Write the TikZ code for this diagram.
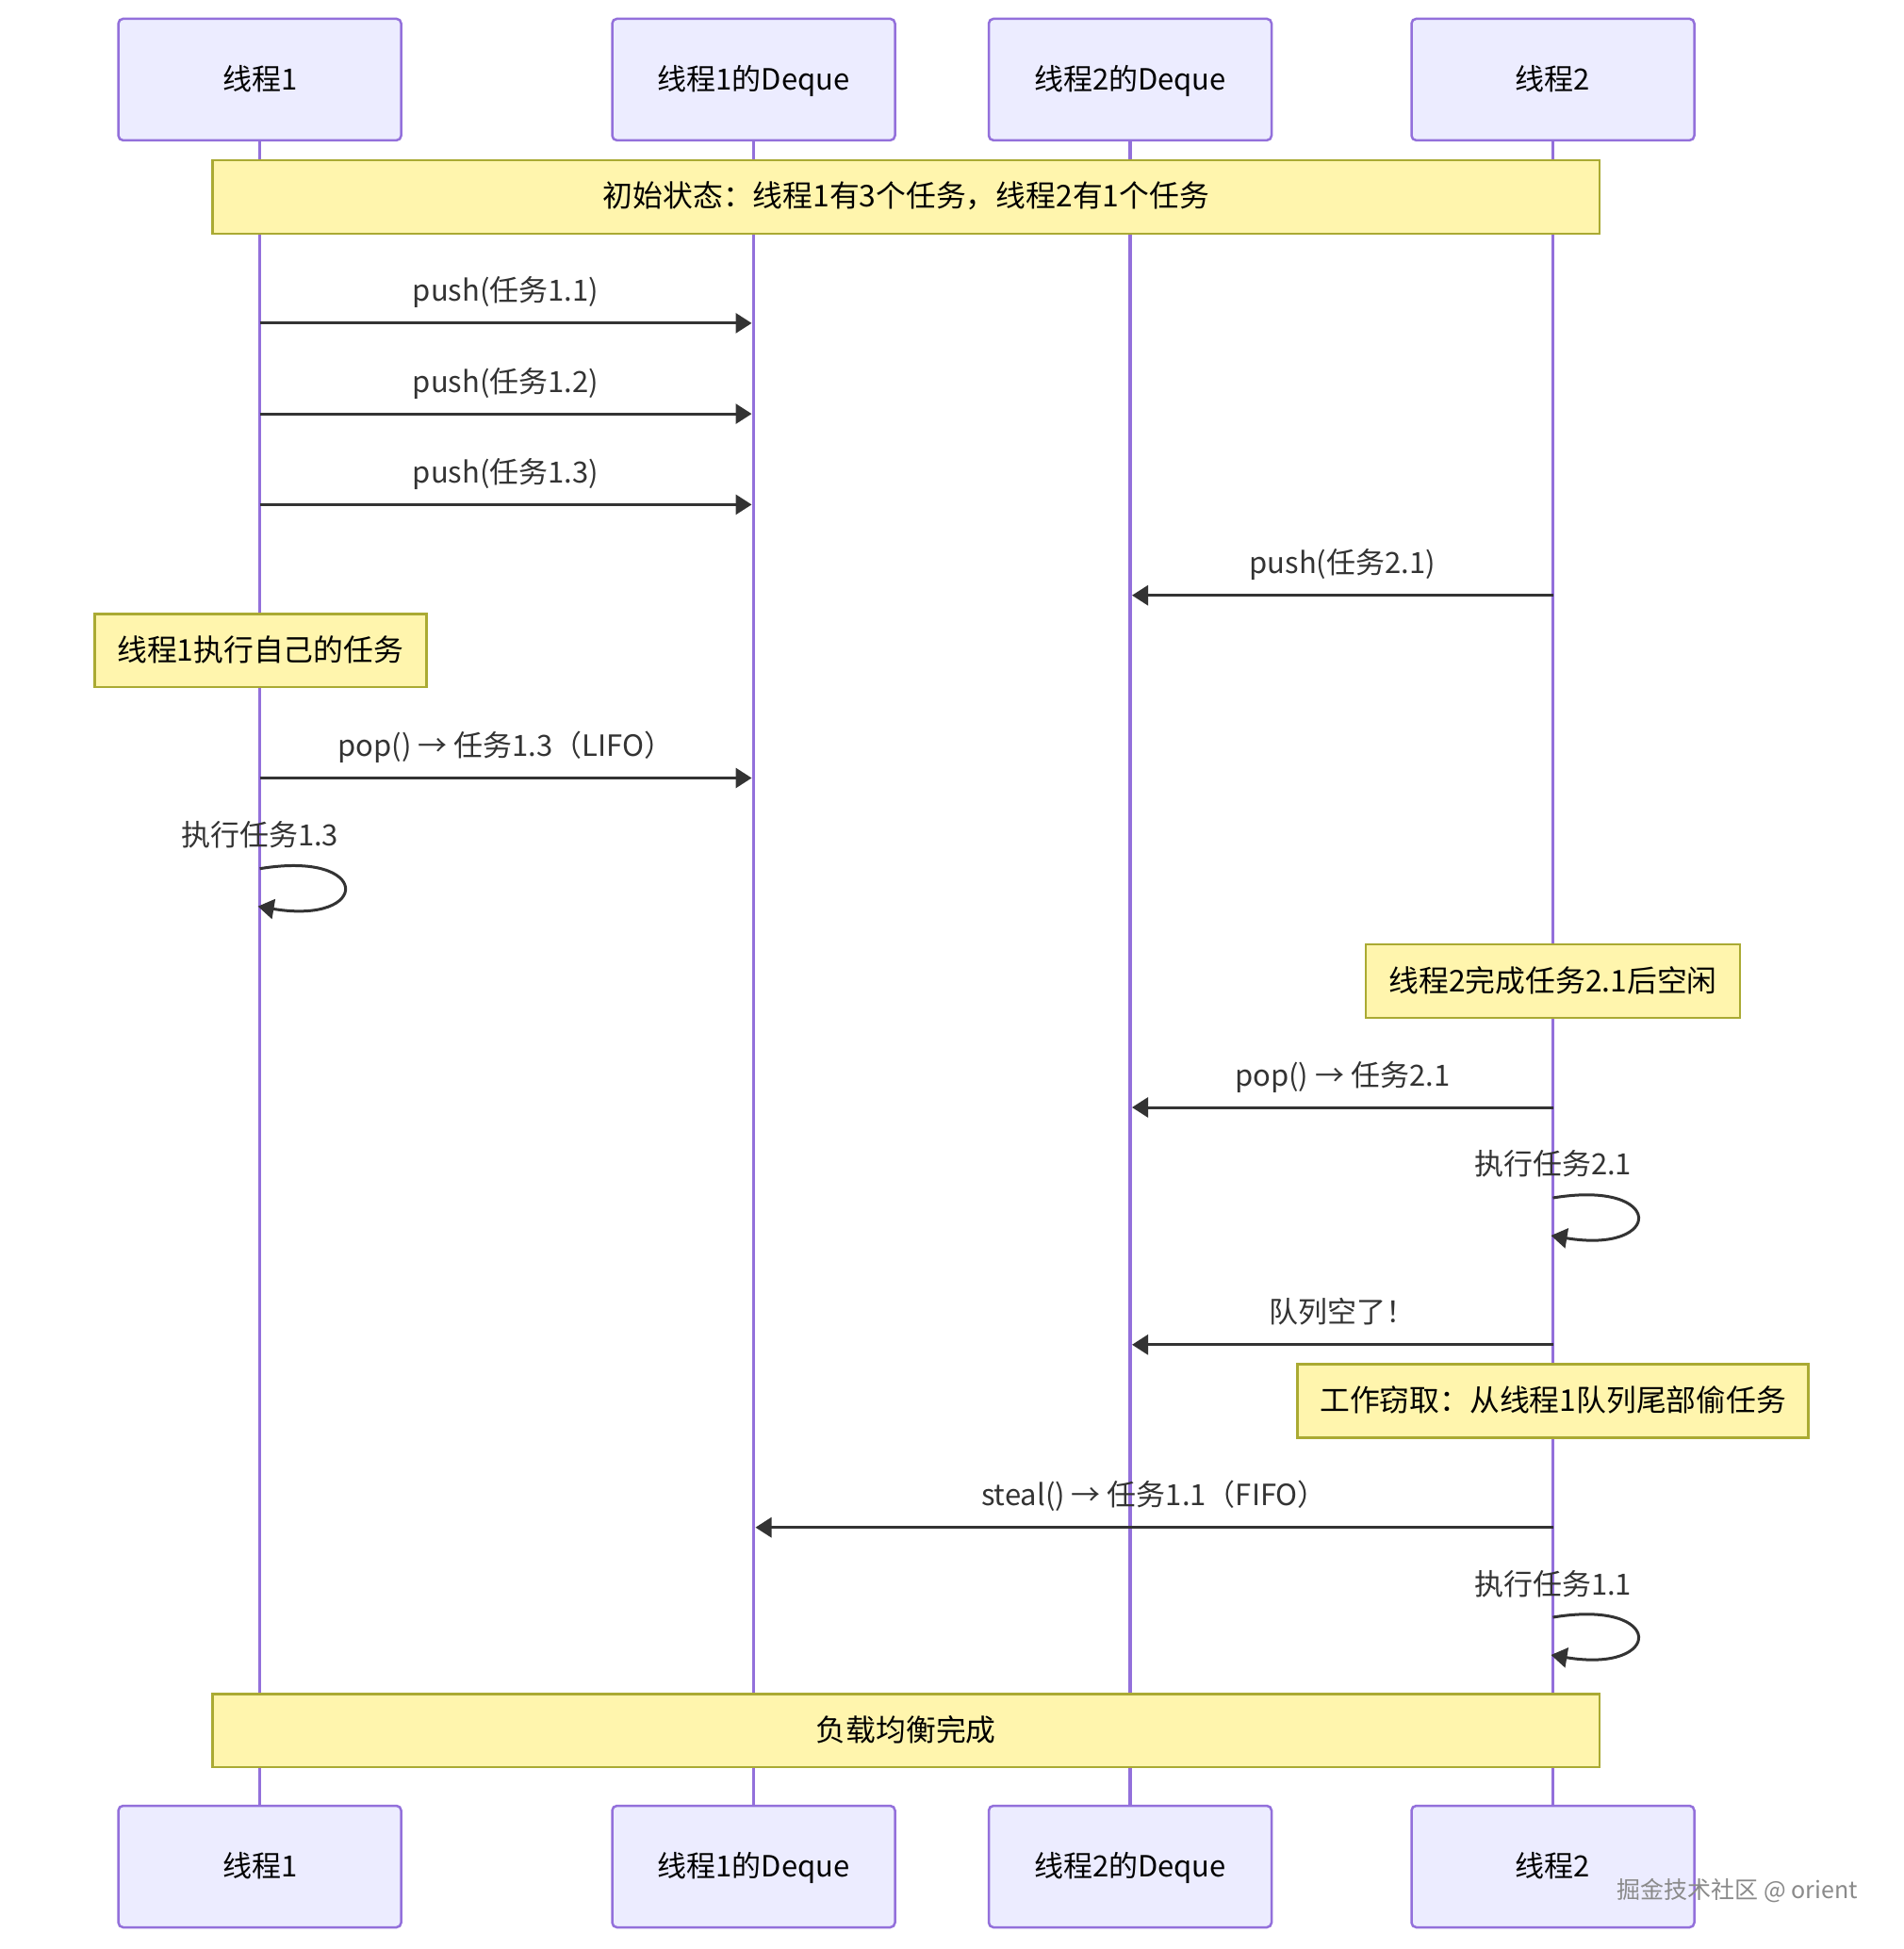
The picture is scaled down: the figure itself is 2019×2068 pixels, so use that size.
\documentclass[tikz,border=0pt]{standalone}
\usepackage{fontspec}
\setmainfont{Noto Sans CJK SC}
\usetikzlibrary{arrows.meta}
\definecolor{actorfill}{HTML}{ECECFF}
\definecolor{actorborder}{HTML}{9370DB}
\definecolor{lifecol}{HTML}{9370DB}
\definecolor{notefill}{HTML}{FFF5AD}
\definecolor{noteborder}{HTML}{AAAA33}
\definecolor{arrowgray}{HTML}{333333}
\definecolor{wmgray}{HTML}{8A8A8A}
\tikzset{
  actorbox/.style={draw=actorborder, fill=actorfill, line width=2.5pt, rounded corners=5pt,
    minimum width=300pt, minimum height=129pt, inner sep=0pt, text=black,
    text height=26pt, text depth=4pt,
    font=\fontsize{31}{37}\selectfont},
  notebox/.style={draw=noteborder, fill=notefill, line width=2.5pt, inner sep=0pt,
    text height=26pt, text depth=4pt,
    minimum height=77.8pt, text=black, font=\fontsize{31.8}{37}\selectfont},
  msglabel/.style={text=arrowgray, font=\fontsize{31}{36}\selectfont, inner sep=0pt,
    text height=26pt, text depth=4pt},
  msgarrow/.style={draw=arrowgray, line width=3pt, -{Triangle[length=17pt,width=21pt]}},
  lifeline/.style={draw=lifecol, line width=3.5pt},
}
\begin{document}
\begin{tikzpicture}[x=1pt, y=-1pt]
\useasboundingbox[fill=white] (0,0) rectangle (2019,2068);

% actors
\node[actorbox] (t1) at (275.6,84.4) {线程1};
\node[actorbox] (d1) at (799.5,84.4) {线程1的Deque};
\node[actorbox] (d2) at (1199,84.4) {线程2的Deque};
\node[actorbox] (t2) at (1647.5,84.4) {线程2};
\node[actorbox] (t1b) at (275.6,1980.5) {线程1};
\node[actorbox] (d1b) at (799.5,1980.5) {线程1的Deque};
\node[actorbox] (d2b) at (1199,1980.5) {线程2的Deque};
\node[actorbox] (t2b) at (1647.5,1980.5) {线程2};

% lifelines
\draw[lifeline] (t1.south) -- (t1b.north);
\draw[lifeline] (d1.south) -- (d1b.north);
\draw[lifeline] (d2.south) -- (d2b.north);
\draw[lifeline] (t2.south) -- (t2b.north);

% notes
\node[notebox, minimum width=1471.7pt] (n1) at (961.35,209) {初始状态：线程1有3个任务，线程2有1个任务};
\node[notebox, minimum width=352pt] (n2) at (276.25,690.3) {线程1执行自己的任务};
\node[notebox, minimum width=397pt] (n3) at (1647.7,1041.1) {线程2完成任务2.1后空闲};
\node[notebox, minimum width=542pt] (n4) at (1647.7,1486.5) {工作窃取：从线程1队列尾部偷任务};
\node[notebox, minimum width=1471.7pt] (n5) at (961.35,1836.3) {负载均衡完成};

% message anchor coordinates
\coordinate (a1s) at (275.6,342.9);  \coordinate (a1e) at (797.5,342.9);
\coordinate (a2s) at (275.6,439.1);  \coordinate (a2e) at (797.5,439.1);
\coordinate (a3s) at (275.6,535.4);  \coordinate (a3e) at (797.5,535.4);
\coordinate (a4s) at (1647.5,631.7); \coordinate (a4e) at (1201,631.7);
\coordinate (a5s) at (275.6,825.5);  \coordinate (a5e) at (797.5,825.5);
\coordinate (a6s) at (1647.5,1175);  \coordinate (a6e) at (1201,1175);
\coordinate (a7s) at (1647.5,1426.8);\coordinate (a7e) at (1201,1426.8);
\coordinate (a8s) at (1647.5,1620.7);\coordinate (a8e) at (801.5,1620.7);

\draw[msgarrow] (a1s) -- (a1e) node[msglabel, midway, yshift=34pt] (l1) {push(任务1.1)};
\draw[msgarrow] (a2s) -- (a2e) node[msglabel, midway, yshift=34pt] (l2) {push(任务1.2)};
\draw[msgarrow] (a3s) -- (a3e) node[msglabel, midway, yshift=34pt] (l3) {push(任务1.3)};
\draw[msgarrow] (a4s) -- (a4e) node[msglabel, midway, yshift=34pt] (l4) {push(任务2.1)};
\draw[msgarrow] (a5s) -- (a5e) node[msglabel, midway, yshift=34pt] (l5) {pop() → 任务1.3（LIFO）};
\draw[msgarrow] (a6s) -- (a6e) node[msglabel, midway, yshift=34pt] (l6) {pop() → 任务2.1};
\draw[msgarrow] (a7s) -- (a7e) node[msglabel, midway, yshift=34pt] (l7) {队列空了！};
\draw[msgarrow] (a8s) -- (a8e) node[msglabel, midway, yshift=34pt] (l8) {steal() → 任务1.1（FIFO）};

% self loops
\coordinate (s1s) at (275.6,921.7);  \coordinate (s1e) at (273.6,961.7);
\coordinate (s2s) at (1647.5,1271);  \coordinate (s2e) at (1645.5,1311);
\coordinate (s3s) at (1647.5,1716);  \coordinate (s3e) at (1645.5,1756);
\node[msglabel] (sl1) at (275.6,886) {执行任务1.3};
\node[msglabel] (sl2) at (1647.5,1235.5) {执行任务2.1};
\node[msglabel] (sl3) at (1647.5,1681) {执行任务1.1};
\draw[msgarrow] (s1s) .. controls +(120,-20) and +(120,20) .. (s1e);
\draw[msgarrow] (s2s) .. controls +(120,-20) and +(120,20) .. (s2e);
\draw[msgarrow] (s3s) .. controls +(120,-20) and +(120,20) .. (s3e);

% watermark
\node[text=wmgray, font=\fontsize{25}{30}\selectfont, anchor=east, inner sep=0pt] (wm) at (1971,2006) {掘金技术社区 @ orient};
\end{tikzpicture}
\end{document}
